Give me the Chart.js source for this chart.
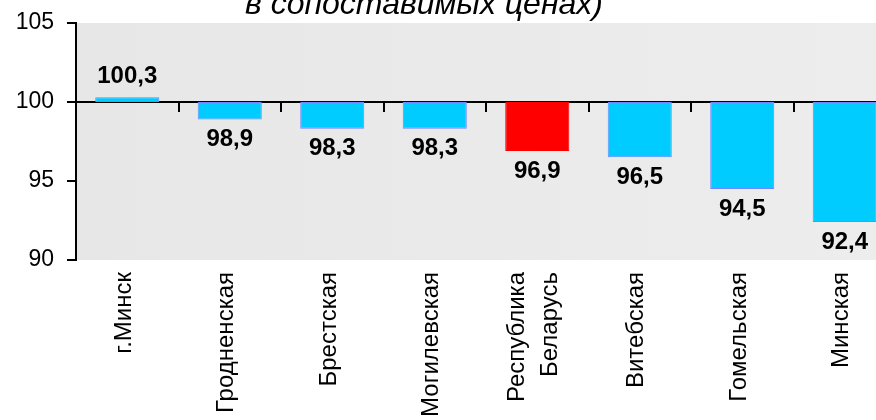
<!DOCTYPE html>
<html>
<head>
<meta charset="utf-8">
<script src="https://cdn.jsdelivr.net/npm/chart.js@4.4.0/dist/chart.umd.min.js"></script>
<style>
    html, body { margin: 0; padding: 0; background: #fff; overflow: hidden; }
    #wrap { width: 896px; height: 420px; }
</style>
</head>
<body>
<div id="wrap"><canvas id="myChart" width="896" height="420"></canvas></div>
<script>
// dados do grafico
var regions = ['г.Минск', 'Гродненская', 'Брестская', 'Могилевская', ['Республика', 'Беларусь'], 'Витебская', 'Гомельская', 'Минская'];
var values = [100.3, 98.9, 98.3, 98.3, 96.9, 96.5, 94.5, 92.4];
var yTicks = [90, 95, 100, 105];
var baseValue = 100;
var countryIndex = 4;
var titleText = 'в сопоставимых ценах)';

var FONT = '"Liberation Sans", Arial, sans-serif';

// fundo cinza da area do grafico
var plotBackground = {
    id: 'plotBackground',
    beforeDraw(chart) {
        var ctx = chart.ctx
        var a = chart.chartArea
        var g = ctx.createLinearGradient(a.left, 0, a.right, 0)
        g.addColorStop(0, '#e7e7e7')
        g.addColorStop(1, '#ededed')
        ctx.save()
        ctx.fillStyle = g
        ctx.fillRect(a.left, a.top, a.right - a.left, a.bottom - a.top)
        ctx.restore()
    }
}

// valores em cima / embaixo das barras
var barLabels = {
    id: 'barLabels',
    afterDatasetsDraw(chart) {
        var ctx = chart.ctx
        var ys = chart.scales.y
        var meta = chart.getDatasetMeta(0)
        ctx.save()
        ctx.font = 'bold 24px ' + FONT
        ctx.fillStyle = '#000'
        ctx.textAlign = 'center'
        ctx.textBaseline = 'middle'
        meta.data.forEach((bar, i) => {
            var v = values[i]
            var py = ys.getPixelForValue(v)
            var y = v >= baseValue ? py - 21 : py + 20
            ctx.fillText(v.toFixed(1).replace('.', ','), bar.x, y)
        })
        ctx.restore()
    }
}

// rotulos verticais do eixo x + titulo cortado
var textLayer = {
    id: 'textLayer',
    afterDraw(chart) {
        var ctx = chart.ctx
        var xs = chart.scales.x
        ctx.save()
        ctx.fillStyle = '#000'
        ctx.font = '24px ' + FONT
        ctx.textAlign = 'right'
        ctx.textBaseline = 'middle'
        regions.forEach((r, i) => {
            var lines = Array.isArray(r) ? r : [r]
            var x = xs.getPixelForValue(i) - 3
            lines.forEach((t, j) => {
                var dx = (j - (lines.length - 1) / 2) * 33
                ctx.save()
                ctx.translate(x + dx, chart.chartArea.bottom + 12)
                ctx.rotate(-Math.PI / 2)
                ctx.fillText(t, 0, 0)
                ctx.restore()
            })
        })

        ctx.font = 'italic 32px ' + FONT
        ctx.textAlign = 'center'
        ctx.textBaseline = 'alphabetic'
        ctx.fillText(titleText, 424, 14)
        ctx.restore()
    }
}

var ctx = document.getElementById('myChart').getContext('2d');
var chart = new Chart(ctx, {
    type: 'bar',
    data: {
        labels: regions,
        datasets: [{
            data: values.map(v => [baseValue, v]),
            backgroundColor: c => c.dataIndex === countryIndex ? '#ff0000' : '#00ccff',
            borderColor: c => c.dataIndex === countryIndex ? '#ff0000' : '#6f86ff',
            borderWidth: 1,
            borderSkipped: false,
            categoryPercentage: 1,
            barPercentage: 0.625
        }]
    },
    options: {
        responsive: false,
        animation: false,
        devicePixelRatio: 1,
        layout: { padding: { top: 23, left: 0, right: 0, bottom: 0 } },
        plugins: {
            legend: { display: false },
            title: { display: false },
            tooltip: { enabled: false }
        },
        scales: {
            x: {
                position: 'bottom',
                grid: { display: false },
                border: { display: false },
                ticks: { display: false },
                afterFit: s => { s.height = 160; s.paddingLeft = 0; s.paddingRight = 0 }
            },
            x2: {
                type: 'category',
                position: { y: baseValue },
                z: 1,
                grid: {
                    display: true,
                    offset: true,
                    drawOnChartArea: false,
                    drawTicks: true,
                    tickLength: 9,
                    color: '#000',
                    lineWidth: 2
                },
                border: { display: true, color: '#000', width: 2 },
                ticks: { display: false },
                afterFit: s => { s.paddingLeft = 0; s.paddingRight = 0; s.paddingTop = 0; s.paddingBottom = 0 }
            },
            y: {
                min: yTicks[0],
                max: yTicks[yTicks.length - 1],
                afterBuildTicks: s => { s.ticks = yTicks.map(v => ({ value: v })) },
                grid: {
                    drawOnChartArea: false,
                    drawTicks: true,
                    tickLength: 9,
                    color: '#000',
                    lineWidth: 2
                },
                border: { display: true, color: '#000', width: 2 },
                ticks: {
                    color: '#000',
                    padding: 13,
                    font: { family: FONT, size: 23 }
                },
                afterFit: s => { s.width = 76; s.paddingTop = 0; s.paddingBottom = 0 }
            }
        }
    },
    plugins: [plotBackground, barLabels, textLayer]
});
</script>
</body>
</html>
